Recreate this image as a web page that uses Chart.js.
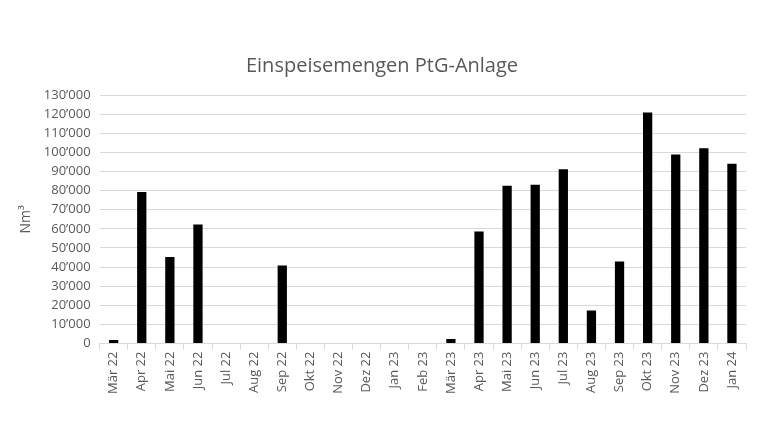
<!DOCTYPE html>
<html><head><meta charset="utf-8">
<script src="https://cdn.jsdelivr.net/npm/chart.js@4/dist/chart.umd.min.js"></script>
<style>html,body{margin:0;padding:0;background:#fff}#wrap{width:760px;height:440px}</style>
</head><body><div id="wrap"><canvas id="c" width="760" height="440"></canvas></div>
<script>
const categories = ["Mär 22","Apr 22","Mai 22","Jun 22","Jul 22","Aug 22","Sep 22","Okt 22","Nov 22","Dez 22","Jan 23","Feb 23","Mär 23","Apr 23","Mai 23","Jun 23","Jul 23","Aug 23","Sep 23","Okt 23","Nov 23","Dez 23","Jan 24"];
const volumes = [1800,79200,45200,62200,0,0,40800,0,0,0,0,0,2400,58600,82500,83100,91100,17300,42900,120900,98900,102100,94100];
const titleText = "Einspeisemengen PtG-Anlage";
const yAxisTitle = "Nm³";

function fmt(v){ return String(v).replace(/\B(?=(\d{3})+(?!\d))/g, "’"); }

new Chart(document.getElementById('c'), {
  type: 'bar',
  data: { labels: categories, datasets: [{ data: volumes, backgroundColor: '#000000', barPercentage: 0.33, categoryPercentage: 1 }] },
  options: {
    responsive: false, animation: false,
    layout: { padding: { left: 18, right: 14, top: 54, bottom: 44 } },
    plugins: {
      legend: { display: false },
      tooltip: { enabled: false },
      title: { display: true, text: titleText, color: '#595959', font: { family: 'Open Sans', size: 20, weight: 'normal' }, padding: { top: 0, bottom: 17 } }
    },
    scales: {
      x: {
        grid: { display: true, drawOnChartArea: false, color: '#d9d9d9', tickLength: 6 },
        border: { color: '#d9d9d9' },
        ticks: { color: '#595959', font: { family: 'Open Sans', size: 13 }, minRotation: 90, maxRotation: 90, autoSkip: false, padding: 2 }
      },
      y: {
        min: 0, max: 130000,
        grid: { color: '#d9d9d9', drawTicks: false },
        border: { display: false },
        ticks: { stepSize: 10000, color: '#595959', font: { family: 'Open Sans', size: 13 }, padding: 9, callback: v => fmt(v) },
        title: { display: true, text: yAxisTitle, color: '#595959', font: { family: 'Open Sans', size: 14 }, padding: { top: 0, bottom: 0 } }
      }
    }
  }
});
</script></body></html>
